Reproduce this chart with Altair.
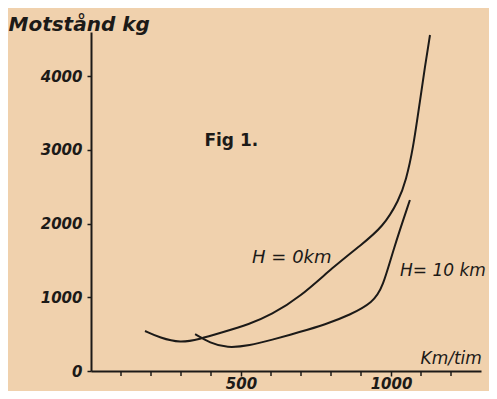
import altair as alt
import pandas as pd

# Curve H = 0 km
h0_speed = [180, 230, 297, 363, 430, 530, 600, 697, 807, 900, 973, 1027, 1050, 1073, 1097, 1113, 1130]
h0_drag = [543, 450, 380, 434, 515, 638, 760, 1004, 1411, 1710, 1954, 2320, 2590, 2999, 3677, 4125, 4559]
# Curve H = 10 km
h10_speed = [347, 397, 453, 530, 600, 697, 780, 863, 940, 973, 1007, 1063]
h10_drag = [500, 380, 312, 345, 420, 530, 630, 760, 930, 1140, 1640, 2320]

x_minor_ticks = [100, 200, 300, 400, 600, 700, 800, 900, 1100, 1200]
x_label_ticks = [500, 1000]
y_ticks = [0, 1000, 2000, 3000, 4000]

ann_text = ["Fig  1.", "H = 0km", "H= 10 km"]
ann_x = [378, 537, 1030]
ann_y = [3053, 1465, 1289]
ann_size = [17, 18, 17]
ann_style = ["normal", "italic", "italic"]
ann_weight = ["bold", "normal", "normal"]

INK = "#1c1a18"
PAPER = "#f0d1ad"

df = pd.concat([
    pd.DataFrame({"speed": h0_speed, "drag": h0_drag, "curve": "H0"}),
    pd.DataFrame({"speed": h10_speed, "drag": h10_drag, "curve": "H10"}),
])

xs = alt.Scale(domain=[0, 1300], nice=False, zero=False)
ys = alt.Scale(domain=[0, 4600], nice=False)

lines = alt.Chart(df).mark_line(color=INK, strokeWidth=2, interpolate="basis").encode(
    x=alt.X("speed:Q", scale=xs, axis=alt.Axis(
        values=x_label_ticks, labelOverlap=False, labelFlush=False,
        title="Km/tim", titleX=329, titleY=-8, titleAlign="left", titleBaseline="alphabetic",
        titleFont="DejaVu Sans", titleFontStyle="italic", titleFontWeight="normal", titleFontSize=17,
        titleColor=INK,
        labelFont="DejaVu Sans", labelFontStyle="italic", labelFontWeight="bold", labelFontSize=15,
        labelColor=INK, labelPadding=0,
        tickSize=5, tickColor=INK, tickWidth=1.5, domainColor=INK, domainWidth=2,
        grid=False, format="d")),
    y=alt.Y("drag:Q", scale=ys, axis=alt.Axis(
        values=y_ticks,
        title="Motstånd kg", titleAngle=0, titleX=-83, titleY=-2, titleAlign="left",
        titleBaseline="alphabetic",
        titleFont="DejaVu Sans", titleFontStyle="italic", titleFontWeight="bold", titleFontSize=20,
        titleColor=INK,
        labelFont="DejaVu Sans", labelFontStyle="italic", labelFontWeight="bold", labelFontSize=15,
        labelColor=INK, labelPadding=5,
        tickSize=4, tickColor=INK, tickWidth=1.5, domainColor=INK, domainWidth=2,
        grid=False, format="d")),
    detail="curve:N",
)

minor = alt.Chart(pd.DataFrame({"t": x_minor_ticks})).mark_rule(
    color=INK, strokeWidth=1.5
).encode(x=alt.X("t:Q", scale=xs), y=alt.value(339), y2=alt.value(344))

ann_df = pd.DataFrame({"t": ann_text, "x": ann_x, "y": ann_y})

texts = []
for i in range(len(ann_text)):
    texts.append(alt.Chart(ann_df.iloc[[i]]).mark_text(
        align="left", baseline="alphabetic", color=INK, font="DejaVu Sans",
        fontSize=ann_size[i], fontStyle=ann_style[i], fontWeight=ann_weight[i]
    ).encode(x=alt.X("x:Q", scale=xs), y=alt.Y("y:Q", scale=ys), text="t:N"))

chart = alt.layer(lines, minor, *texts).properties(
    width=390, height=339,
    background=PAPER,
    padding={"left": 83, "top": 24, "right": 8, "bottom": 20},
    autosize=alt.AutoSizeParams(type="none"),
).configure_view(stroke=None)

chart.save("out.html", embed_options={"renderer": "svg", "actions": False})
